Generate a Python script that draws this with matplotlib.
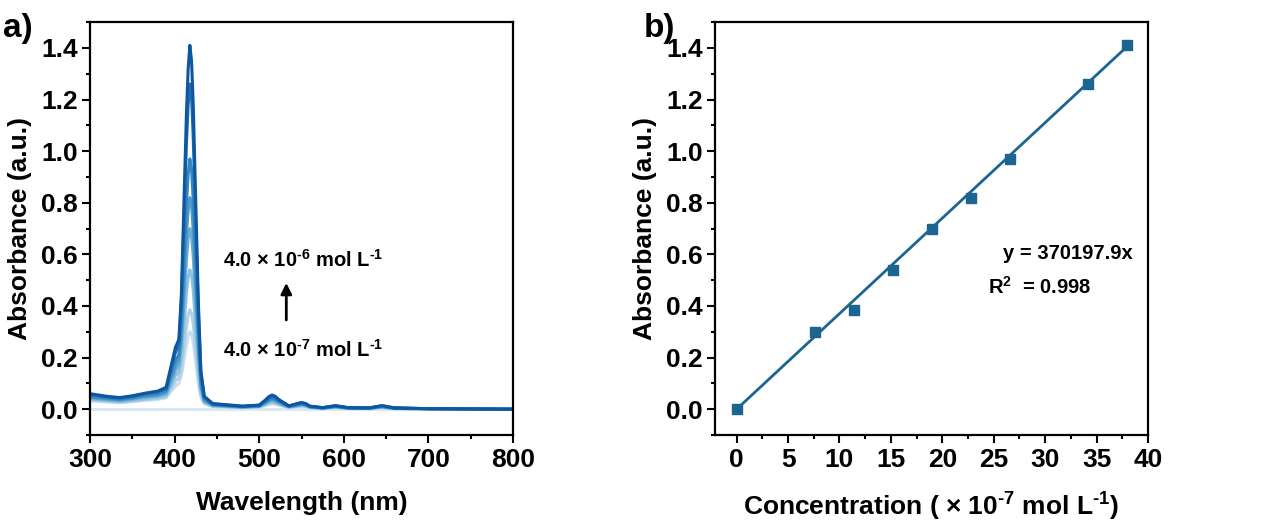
import numpy as np
import matplotlib
matplotlib.use('Agg')
import matplotlib.pyplot as plt
from matplotlib.ticker import MultipleLocator

plt.rcParams['font.family'] = ['Liberation Sans', 'DejaVu Sans']
plt.rcParams['font.weight'] = 'bold'
plt.rcParams['mathtext.fontset'] = 'custom'
plt.rcParams['mathtext.rm'] = 'Liberation Sans:bold'
plt.rcParams['mathtext.bf'] = 'Liberation Sans:bold'
plt.rcParams['mathtext.default'] = 'bf'

# wavelength grid (nm)
wl = [300, 320, 335, 350, 365, 380, 390, 396, 401, 405, 408, 411, 414, 416, 418,
      420, 422, 425, 428, 431, 435, 445, 480, 500, 507, 511, 515, 519, 523, 535,
      545, 550, 555, 560, 575, 590, 605, 630, 645, 660, 700, 800]

# absorbance of each spectrum, lowest to highest concentration
abs_0 = [0.0] * len(wl)
abs_1 = [0.032, 0.028, 0.025, 0.029, 0.034, 0.038, 0.044, 0.07, 0.09, 0.10, 0.13, 0.19, 0.25, 0.285, 0.30,
         0.29, 0.26, 0.18, 0.10, 0.045, 0.021, 0.010, 0.006,
         0.008, 0.014, 0.018, 0.021, 0.019, 0.016, 0.006, 0.009, 0.011, 0.009, 0.005,
         0.003, 0.006, 0.003, 0.002, 0.006, 0.002, 0.001, 0.0]
abs_2 = [0.035, 0.030, 0.027, 0.031, 0.037, 0.041, 0.048, 0.08, 0.11, 0.12, 0.16, 0.24, 0.32, 0.365, 0.385,
         0.37, 0.33, 0.23, 0.13, 0.055, 0.024, 0.011, 0.006,
         0.009, 0.016, 0.021, 0.024, 0.022, 0.018, 0.007, 0.011, 0.013, 0.011, 0.006,
         0.003, 0.007, 0.003, 0.002, 0.007, 0.002, 0.001, 0.0]
abs_3 = [0.039, 0.034, 0.030, 0.035, 0.041, 0.046, 0.054, 0.095, 0.13, 0.145, 0.20, 0.32, 0.45, 0.51, 0.54,
         0.52, 0.46, 0.31, 0.17, 0.07, 0.028, 0.013, 0.007,
         0.010, 0.019, 0.025, 0.029, 0.026, 0.021, 0.008, 0.013, 0.015, 0.013, 0.007,
         0.004, 0.008, 0.004, 0.003, 0.008, 0.003, 0.001, 0.0]
abs_4 = [0.043, 0.037, 0.033, 0.039, 0.046, 0.051, 0.060, 0.11, 0.15, 0.17, 0.25, 0.41, 0.58, 0.66, 0.70,
         0.67, 0.59, 0.40, 0.22, 0.085, 0.032, 0.015, 0.008,
         0.011, 0.022, 0.030, 0.034, 0.031, 0.024, 0.009, 0.014, 0.017, 0.014, 0.008,
         0.004, 0.009, 0.004, 0.003, 0.009, 0.003, 0.001, 0.0]
abs_5 = [0.046, 0.040, 0.036, 0.042, 0.050, 0.055, 0.066, 0.12, 0.17, 0.19, 0.28, 0.48, 0.68, 0.77, 0.82,
         0.79, 0.69, 0.47, 0.25, 0.095, 0.035, 0.016, 0.009,
         0.012, 0.025, 0.033, 0.038, 0.034, 0.027, 0.010, 0.016, 0.019, 0.016, 0.009,
         0.005, 0.010, 0.005, 0.004, 0.010, 0.004, 0.002, 0.0]
abs_6 = [0.050, 0.043, 0.039, 0.045, 0.054, 0.060, 0.072, 0.14, 0.19, 0.21, 0.33, 0.56, 0.80, 0.91, 0.97,
         0.93, 0.81, 0.56, 0.30, 0.11, 0.04, 0.018, 0.010,
         0.013, 0.028, 0.037, 0.043, 0.039, 0.030, 0.011, 0.018, 0.021, 0.018, 0.010,
         0.005, 0.011, 0.005, 0.004, 0.011, 0.004, 0.002, 0.0]
abs_7 = [0.057, 0.048, 0.043, 0.050, 0.060, 0.067, 0.080, 0.16, 0.22, 0.25, 0.41, 0.72, 1.03, 1.18, 1.26,
         1.21, 1.05, 0.72, 0.38, 0.14, 0.047, 0.020, 0.011,
         0.015, 0.032, 0.043, 0.050, 0.045, 0.035, 0.012, 0.020, 0.024, 0.020, 0.011,
         0.006, 0.013, 0.006, 0.005, 0.013, 0.005, 0.002, 0.0]
abs_8 = [0.060, 0.050, 0.045, 0.052, 0.062, 0.070, 0.085, 0.17, 0.24, 0.27, 0.45, 0.80, 1.15, 1.32, 1.41,
         1.35, 1.18, 0.80, 0.42, 0.15, 0.05, 0.022, 0.012,
         0.016, 0.035, 0.048, 0.055, 0.050, 0.038, 0.013, 0.022, 0.026, 0.022, 0.012,
         0.006, 0.014, 0.006, 0.005, 0.014, 0.005, 0.002, 0.0]

# calibration points (panel b)
conc = [0, 7.6, 11.4, 15.2, 19.0, 22.8, 26.6, 34.2, 38.0]
peak_abs = [0.0, 0.30, 0.385, 0.54, 0.70, 0.82, 0.97, 1.26, 1.41]
slope = 370197.9  # L/mol, from the fit text

spectra = [abs_0, abs_1, abs_2, abs_3, abs_4, abs_5, abs_6, abs_7, abs_8]
colors = plt.cm.Blues(np.linspace(0.15, 0.85, len(spectra)))

fig = plt.figure(figsize=(12.68, 5.26), dpi=100)
ax1 = fig.add_axes([0.071, 0.173, 0.3336, 0.785])
ax2 = fig.add_axes([0.5639, 0.173, 0.3415, 0.785])

for s, c in zip(spectra, colors):
    ax1.plot(wl, s, color=c, lw=2.2)

ax1.set_xlim(300, 800)
ax1.set_ylim(-0.1, 1.5)
ax1.xaxis.set_major_locator(MultipleLocator(100))
ax1.xaxis.set_minor_locator(MultipleLocator(50))
ax1.set_xlabel('Wavelength (nm)', fontsize=19, fontweight='bold', labelpad=14)

ax1.text(457, 0.577, r'4.0 × 10$^{\text{-6}}$ mol L$^{\text{-1}}$', fontsize=14.5, va='center', ha='left')
ax1.text(457, 0.23, r'4.0 × 10$^{\text{-7}}$ mol L$^{\text{-1}}$', fontsize=14.5, va='center', ha='left')
ax1.annotate('', xy=(532, 0.50), xytext=(532, 0.335),
             arrowprops=dict(arrowstyle='-|>', color='black', lw=2, mutation_scale=16))

fit_x = np.array([0, conc[-1]])
ax2.plot(fit_x, slope * 1e-7 * fit_x, color='#1c6591', lw=2)
ax2.plot(conc, peak_abs, 's', color='#1c6591', ms=6.5, ls='none')
ax2.set_xlim(-2.1, 40)
ax2.set_ylim(-0.1, 1.5)
ax2.xaxis.set_major_locator(MultipleLocator(5))
ax2.xaxis.set_minor_locator(MultipleLocator(2.5))
ax2.set_xlabel(r'Concentration ( × 10$^{\text{-7}}$ mol L$^{\text{-1}}$)', fontsize=19, fontweight='bold', labelpad=14)
ax2.text(25.9, 0.605, 'y = 370197.9x', fontsize=14.5, va='center', ha='left')
ax2.text(24.4, 0.473, r'R$^{2}$  = 0.998', fontsize=14.5, va='center', ha='left')

for ax in (ax1, ax2):
    ax.yaxis.set_major_locator(MultipleLocator(0.2))
    ax.yaxis.set_minor_locator(MultipleLocator(0.1))
    ax.yaxis.set_major_formatter(plt.FormatStrFormatter('%.1f'))
    ax.set_ylabel('Absorbance (a.u.)', fontsize=19, fontweight='bold', labelpad=6)
    ax.tick_params(which='major', direction='out', length=6, width=1.5, labelsize=19, pad=3)
    ax.tick_params(which='minor', direction='out', length=3, width=1.5)
    for sp in ax.spines.values():
        sp.set_linewidth(1.6)
    for lbl in ax.get_xticklabels() + ax.get_yticklabels():
        lbl.set_fontweight('bold')

fig.text(0.002, 0.945, 'a)', fontsize=24, fontweight='bold', va='center')
fig.text(0.508, 0.945, 'b)', fontsize=24, fontweight='bold', va='center')

fig.savefig('out.png', dpi=100)
